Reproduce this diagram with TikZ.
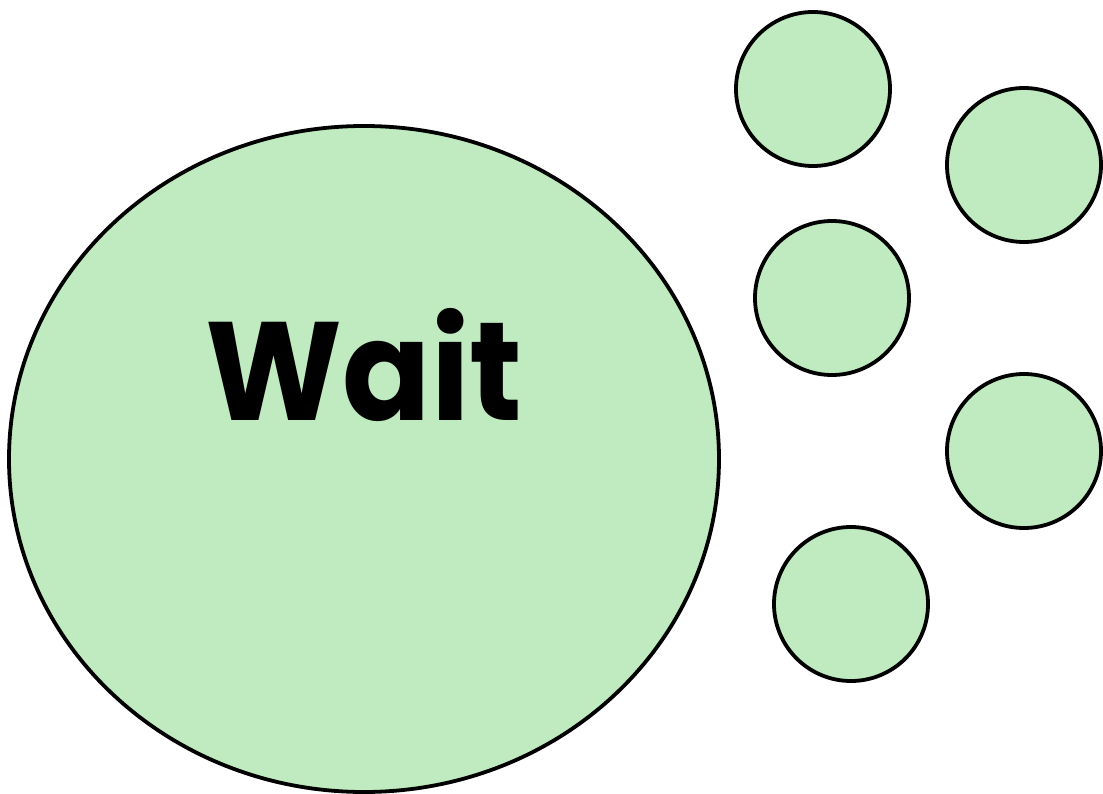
\documentclass[tikz,border=0pt]{standalone}
\usepackage{fontspec}
\setmainfont{Poppins}
\usetikzlibrary{shapes.geometric}
\definecolor{mint}{HTML}{C0EBC0}
\tikzset{
  x=1pt, y=-1pt,
  blob/.style={ellipse, draw=black, fill=mint, line width=3.8pt, inner sep=0pt},
  small/.style={blob, minimum width=154pt, minimum height=154pt}
}
\begin{document}
\begin{tikzpicture}
\useasboundingbox[fill=white] (0,0) rectangle (1103,794);
\node[blob, minimum width=710pt, minimum height=666pt] (big) at (364,459) {};
\node[anchor=base, xscale=0.93, transform shape, font=\fontsize{140}{140}\selectfont\bfseries] (wait) at (364,420) {Wait};
\node[small] (c1) at (813,89) {};
\node[small] (c2) at (1024,165) {};
\node[small] (c3) at (832,298) {};
\node[small] (c4) at (1024,451) {};
\node[small] (c5) at (851,604) {};
\end{tikzpicture}
\end{document}
